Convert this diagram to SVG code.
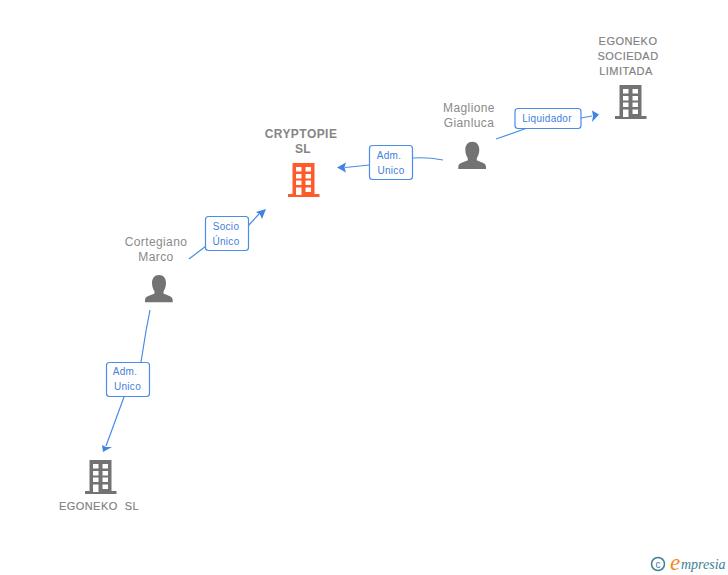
<svg xmlns="http://www.w3.org/2000/svg" width="728" height="575" viewBox="0 0 728 575">
<style>
text{font-family:"Liberation Sans",Arial,sans-serif}
.n{font-size:12px;letter-spacing:.4px;fill:#8a8a8a;text-anchor:middle}
.c{font-size:11px;letter-spacing:.45px;fill:#808080;stroke:#808080;stroke-width:.15;text-anchor:middle}
.cc{font-size:12px;letter-spacing:.45px;font-weight:bold;fill:#858585;text-anchor:middle}
.l{font-size:10px;letter-spacing:.3px;fill:#3f80dc;text-anchor:middle}
.b{fill:#fff;stroke:#4a8ce6;stroke-width:1.200}
.e{fill:none;stroke:#4a8ce6;stroke-width:1.200}
.h{fill:#3f84e0}
</style>
<defs>
<g id="bld">
<path fill-rule="evenodd" d="M4.500 0H26.500V31H31.500V34H0V31H4.500ZM8 4V8.500H13.500V4ZM17.500 4V8.500H23V4ZM8 11V15.500H13.500V11ZM17.500 11V15.500H23V11ZM8 17.500V22H13.500V17.500ZM17.500 17.500V22H23V17.500ZM8 24.500V32H13.500V24.500ZM17.500 24.500V29H23V24.500Z"/>
</g>
<path id="psn" d="M14 0C18.500 0 21 3.500 21 8C21 11.500 19.800 14.500 18.500 16.500V18.500C22.500 20.500 27.700 21 27.700 25V27.300H0V25C0 21 5.500 20.500 9.500 18.500V16.500C8.200 14.500 7 11.500 7 8C7 3.500 9.500 0 14 0Z"/>
</defs>
<g id="connectors">
<path class="e" d="M443 160Q428 157 412 158M370 165L345 167.500"/>
<path class="h" d="M337 167.500L346 162.500L344.500 167.500L346 172.500Z"/>
<path class="e" d="M496 139L530 127M581 118L592 116"/>
<path class="h" d="M599 114.500L592 110.500L593 116L592 122Z"/>
<path class="e" d="M189 259L206 246M248 226L259 214"/>
<path class="h" d="M266 209L256 212L260 214.500L262 219Z"/>
<path class="e" d="M150 310L146 331L141 362M124 397L106 446"/>
<path class="h" d="M103 452L102 445L106 447L112 447Z"/>
</g>
<g id="node-cryptopie">
<text class="cc" x="301" y="138">CRYPTOPIE</text>
<text class="cc" x="303" y="153">SL</text>
<use href="#bld" x="288" y="163" fill="#ff5a2c"/>
</g>
<g id="node-maglione">
<text class="n" x="469" y="112">Maglione</text>
<text class="n" x="469" y="127">Gianluca</text>
<use href="#psn" x="458.300" y="141.700" fill="#737373"/>
</g>
<g id="node-egoneko-sociedad">
<text class="c" x="628" y="45">EGONEKO</text>
<text class="c" x="628" y="60">SOCIEDAD</text>
<text class="c" x="626" y="75">LIMITADA</text>
<use href="#bld" x="615" y="85" fill="#737373"/>
</g>
<g id="node-cortegiano">
<text class="n" x="156" y="246">Cortegiano</text>
<text class="n" x="156" y="261">Marco</text>
<use href="#psn" x="145" y="275" fill="#737373"/>
</g>
<g id="node-egoneko-sl">
<text class="c" x="99" y="510" xml:space="preserve">EGONEKO  SL</text>
<use href="#bld" x="85" y="460" fill="#737373"/>
</g>
<g id="label-adm1">
<rect class="b" x="369.500" y="145.500" width="43" height="34" rx="3"/>
<text class="l" x="389" y="159">Adm.</text>
<text class="l" x="391" y="174">Unico</text>
</g>
<g id="label-liquidador">
<rect class="b" x="515" y="108.500" width="66" height="20" rx="3"/>
<text class="l" x="547" y="122">Liquidador</text>
</g>
<g id="label-socio">
<rect class="b" x="205.500" y="216.500" width="43" height="34" rx="3"/>
<text class="l" x="226" y="230">Socio</text>
<text class="l" x="226" y="245">Único</text>
</g>
<g id="label-adm2">
<rect class="b" x="106.500" y="362.500" width="43" height="34" rx="3"/>
<text class="l" x="125" y="375">Adm.</text>
<text class="l" x="127.500" y="390">Unico</text>
</g>
<g id="logo">
<circle cx="658" cy="564" r="6.500" fill="none" stroke="#3d7f96" stroke-width="1.500"/>
<text x="658" y="567.500" font-size="10" fill="#3d7f96" text-anchor="middle">c</text>
<text x="670" y="570" font-size="23" font-style="italic" fill="#f28a1c" style="font-family:'Liberation Serif',serif">e</text>
<text x="681" y="569" font-size="14" font-style="italic" fill="#3d7f96" style="font-family:'Liberation Serif',serif">mpresia</text>
</g>
</svg>
